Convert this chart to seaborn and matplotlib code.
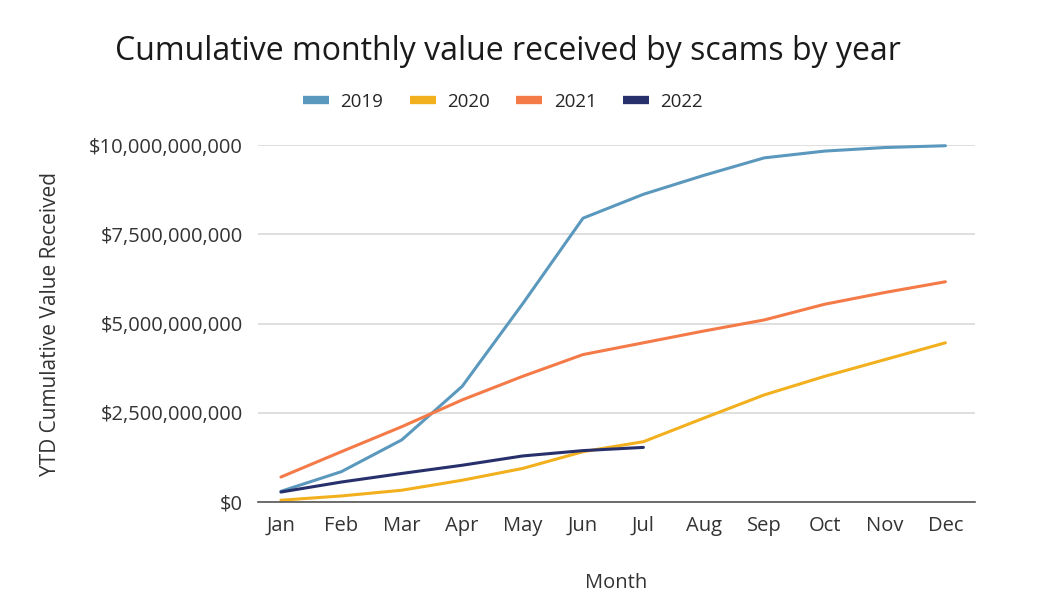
import matplotlib
matplotlib.use("Agg")
import matplotlib.pyplot as plt
import matplotlib.ticker as mticker
import seaborn as sns
import pandas as pd

# values, in billions of USD
months = ["Jan", "Feb", "Mar", "Apr", "May", "Jun", "Jul", "Aug", "Sep", "Oct", "Nov", "Dec"]
v2019 = [0.30, 0.85, 1.74, 3.24, 5.55, 7.95, 8.62, 9.15, 9.64, 9.83, 9.93, 9.98]
v2020 = [0.05, 0.17, 0.33, 0.61, 0.94, 1.41, 1.69, 2.35, 3.00, 3.52, 3.99, 4.46]
v2021 = [0.70, 1.41, 2.11, 2.86, 3.52, 4.13, 4.46, 4.79, 5.10, 5.54, 5.87, 6.17]
v2022 = [0.28, 0.56, 0.80, 1.03, 1.29, 1.44, 1.53]

years = ["2019", "2020", "2021", "2022"]
colors = ["#5b98bd", "#f2b01e", "#f47a48", "#27306b"]

rows = []
for yr, vals in zip(years, [v2019, v2020, v2021, v2022]):
    for i, v in enumerate(vals):
        rows.append({"Month": i, "Year": yr, "Value": v * 1e9})
df = pd.DataFrame(rows)

sns.set_theme(style="white")
plt.rcParams["font.family"] = ["Open Sans", "DejaVu Sans"]

fig = plt.figure(figsize=(10.5, 6), dpi=100)
ax = fig.add_axes([0.2457, 0.1633, 0.6829, 0.595])

sns.lineplot(data=df, x="Month", y="Value", hue="Year", palette=colors,
             linewidth=2.2, ax=ax, legend=False)

ax.set_xlim(-0.38, 11.49)
ax.set_ylim(0, 10.0e9)
ax.set_xticks(range(12))
ax.set_xticklabels(months)
ax.set_yticks([0, 2.5e9, 5e9, 7.5e9, 10e9])
ax.yaxis.set_major_formatter(mticker.FuncFormatter(lambda v, p: f"${v:,.0f}"))
ax.tick_params(axis="both", labelsize=14.5, colors="#333333", length=0)
ax.tick_params(axis="x", pad=10)
ax.tick_params(axis="y", pad=11)

ax.grid(axis="y", color="#d9d9d9", linewidth=1.2)
ax.set_axisbelow(True)
for s in ["top", "right", "left"]:
    ax.spines[s].set_visible(False)
ax.spines["bottom"].set_color("#555555")
ax.spines["bottom"].set_linewidth(1.2)
for line in ax.lines:
    line.set_clip_on(False)

ax.set_xlabel("Month", fontsize=14.5, color="#333333", labelpad=27)
ax.set_ylabel("YTD Cumulative Value Received", fontsize=15, color="#333333", labelpad=20)

fig.text(0.484, 0.915, "Cumulative monthly value received by scams by year",
         ha="center", va="center", fontsize=23, color="#1a1a1a")

handles = [plt.Line2D([], [], color=c, linewidth=6, solid_capstyle="butt") for c in colors]
fig.legend(handles, years, loc="center", bbox_to_anchor=(0.479, 0.83), ncol=4,
           frameon=False, fontsize=13.5, handlelength=1.4, columnspacing=1.4,
           handletextpad=0.6)

fig.savefig("out.png", dpi=100)
